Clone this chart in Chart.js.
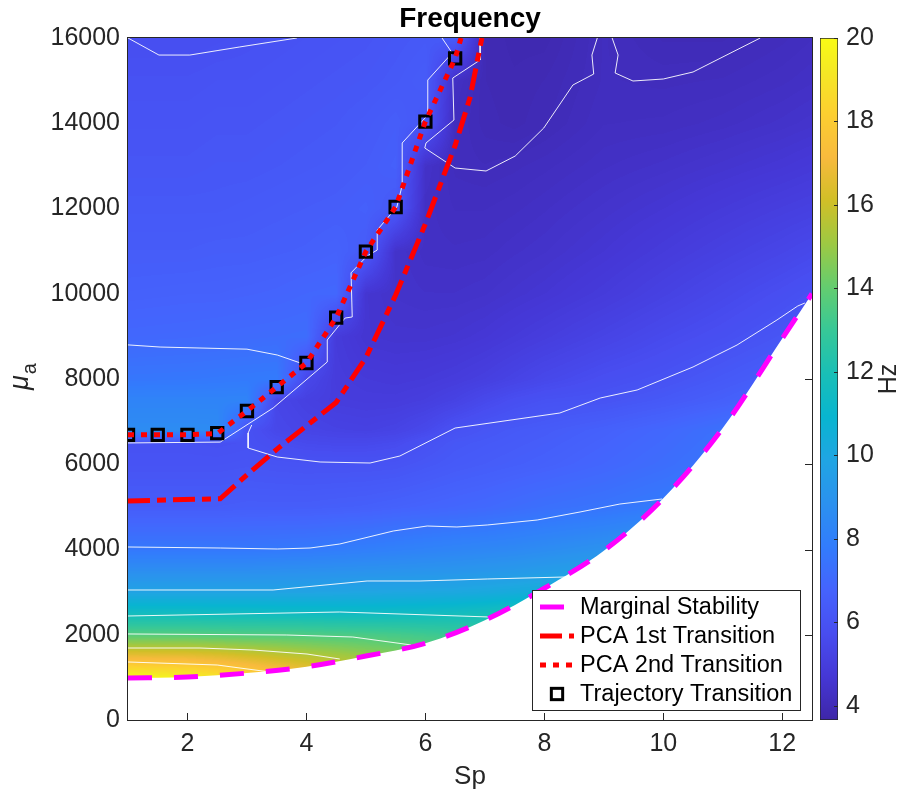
<!DOCTYPE html>
<html>
<head>
<meta charset="utf-8">
<title>Frequency</title>
<script src="https://cdn.jsdelivr.net/npm/chart.js@4.4.1/dist/chart.umd.min.js"></script>
<style>
  html, body { margin: 0; padding: 0; background: #fff; }
  #wrap { position: relative; width: 904px; height: 797px; }
  #main { position: absolute; left: 0; top: 0; }
  #cbar { position: absolute; left: 819px; top: 0; }
</style>
</head>
<body>
<div id="wrap">
  <canvas id="main" width="904" height="797"></canvas>
  <canvas id="cbar" width="85" height="797"></canvas>
</div>
<script>
// axis ticks
const xTicks = [2, 4, 6, 8, 10, 12];
const yTicks = [0, 2000, 4000, 6000, 8000, 10000, 12000, 14000, 16000];
const cbTicks = [4, 6, 8, 10, 12, 14, 16, 18, 20];
const cbMin = 3.66, cbMax = 20;

// marginal stability boundary
const msSp = [1, 2, 3, 4, 5, 6, 7, 8, 9, 10, 11, 12, 12.5];
const msMu = [985, 1010, 1100, 1250, 1500, 1800, 2340, 3090, 3970, 5200, 6850, 8950, 10000];

// PCA transitions
const pca1Sp = [1, 2.55, 3, 3.5, 4, 4.5, 5, 5.5, 6, 6.5, 6.75, 6.95];
const pca1Mu = [5140, 5190, 5750, 6350, 6900, 7450, 8500, 9970, 11640, 13480, 14600, 16000];
const pca2Sp = [1, 1.5, 2, 2.5, 3, 3.5, 4, 4.5, 5, 5.5, 6, 6.5, 6.6];
const pca2Mu = [6690, 6690, 6690, 6720, 7250, 7810, 8375, 9440, 10990, 12035, 14040, 15520, 16000];

// trajectory transition markers
const trajSp = [1, 1.5, 2, 2.5, 3, 3.5, 4, 4.5, 5, 5.5, 6, 6.5];
const trajMu = [6690, 6690, 6690, 6730, 7250, 7810, 8375, 9440, 10990, 12035, 14040, 15520];

// iso-frequency contour lines, [Sp, mu_a] vertices
const contourLines = [
  [[1, 16000], [1.52, 15600], [2.04, 15600], [2.88, 15790], [3.84, 16000]],
  [[1, 6500], [2.55, 6520], [3.44, 7320], [4.35, 8400], [4.35, 8915], [4.65, 9430], [4.77, 9455], [4.75, 10490],
   [5.02, 10885], [5.19, 11025], [5.19, 11495], [5.52, 12035], [5.62, 12600], [5.61, 13537], [6.04, 14193],
   [6.04, 15014], [6.45, 15648], [6.28, 16000]],
  [[1, 8800], [1.54, 8750], [3.0, 8700], [3.51, 8563], [3.9, 8375]],
  [[3.08, 6920], [3.02, 6733], [3.02, 6381], [3.51, 6170], [4.23, 6053], [5.07, 6029], [5.57, 6193], [6.5, 6850],
   [8.26, 7202], [8.94, 7554], [9.56, 7742], [10.5, 8282], [11.24, 8798], [11.91, 9384], [12.26, 9712], [12.38, 9783]],
  [[6.92, 16000], [6.92, 15484], [6.46, 15061], [6.48, 14076], [6.01, 13537], [5.99, 13419], [6.5, 12950],
   [7.02, 12880], [7.51, 13231], [7.99, 13888], [8.48, 14897], [8.83, 15155], [8.8, 15601], [8.89, 16000]],
  [[9.14, 16000], [9.24, 15601], [9.19, 15179], [9.49, 14991], [10.0, 15038], [10.5, 15202], [11.63, 16000]],
  [[1, 4059], [2.55, 4035], [3.51, 4012], [4.06, 4035], [4.56, 4129], [5.46, 4434], [6.03, 4551], [6.53, 4528],
   [7.04, 4575], [7.88, 4692], [8.6, 4880], [9.27, 5067], [9.98, 5185]],
  [[1, 3050], [3.44, 3050], [5.02, 3261], [5.91, 3261], [7.04, 3308], [8.35, 3355]],
  [[1, 2440], [4.56, 2534], [7.09, 2416]],
  [[1, 2018], [3.67, 1994], [4.78, 1947], [5.76, 1760]],
  [[1, 1689], [2.21, 1689], [3.1, 1642], [4.01, 1548], [4.56, 1431]],
  [[1, 1361], [2.5, 1290], [3.39, 1126]]
];

// frequency surface (Hz) on a Sp x mu_a grid, rows from low to high mu_a
const gridSp = [1, 2, 2.5, 3, 3.5, 4, 4.5, 5, 5.5, 6, 6.5, 7, 7.5, 8, 9, 10, 11, 12, 12.5];
const gridMu = [1000, 1500, 2000, 2500, 3000, 3500, 4000, 5000, 6000, 6500, 6800, 7500, 8000, 9000, 10000, 11000, 12000, 13000, 14000, 15000, 16000];
const freqGrid = [
  [19.8, 19.5, 19.1, 18.6, 18.0, 17.4, 16.8, 16.2, 15.7, 15.2, 14.8, 14.4, 14.2, 14.0, 14.0, 14.2, 14.5, 14.7, 14.8],
  [16.8, 16.7, 16.5, 16.2, 15.9, 15.6, 15.3, 15.0, 14.7, 14.4, 14.1, 13.8, 13.6, 13.5, 13.5, 13.7, 14.0, 14.2, 14.3],
  [13.7, 13.7, 13.65, 13.6, 13.6, 13.55, 13.5, 13.45, 13.35, 13.2, 13.05, 12.9, 12.9, 13.0, 13.2, 13.5, 13.8, 14.0, 14.1],
  [11.6, 11.6, 11.55, 11.55, 11.5, 11.5, 11.45, 11.45, 11.5, 11.55, 11.65, 11.8, 12.0, 12.2, 12.5, 12.8, 13.1, 13.4, 13.5],
  [9.8, 9.8, 9.8, 9.8, 9.8, 9.8, 9.85, 9.9, 9.95, 10.0, 10.05, 10.15, 10.3, 10.45, 10.7, 11.0, 11.3, 11.6, 11.7],
  [8.7, 8.7, 8.7, 8.7, 8.75, 8.8, 8.85, 8.9, 8.95, 9.0, 9.05, 9.15, 9.25, 9.4, 9.7, 10.1, 10.5, 10.9, 11.1],
  [7.65, 7.65, 7.65, 7.65, 7.7, 7.75, 7.85, 7.95, 8.05, 8.15, 8.25, 8.35, 8.45, 8.6, 8.9, 9.3, 9.8, 10.3, 10.6],
  [6.45, 6.45, 6.45, 6.5, 6.5, 6.5, 6.55, 6.6, 6.7, 6.8, 6.9, 7.0, 7.15, 7.3, 7.5, 7.8, 8.2, 8.6, 8.8],
  [6.05, 6.05, 6.05, 6.1, 6.05, 6.02, 6.02, 6.02, 6.05, 6.2, 6.35, 6.45, 6.55, 6.65, 6.9, 7.2, 7.6, 8.0, 8.2],
  [5.95, 5.95, 5.9, 5.95, 5.75, 5.6, 5.55, 5.55, 5.65, 5.95, 6.2, 6.3, 6.4, 6.5, 6.75, 7.05, 7.45, 7.85, 8.05],
  [8.6, 8.6, 8.55, 5.95, 5.5, 5.35, 5.25, 5.2, 5.3, 5.55, 5.95, 6.15, 6.3, 6.4, 6.65, 6.95, 7.35, 7.7, 7.9],
  [8.2, 8.2, 8.2, 8.2, 5.4, 5.15, 5.0, 4.95, 4.95, 5.05, 5.25, 5.55, 5.8, 5.95, 6.05, 6.3, 6.6, 7.0, 7.2],
  [7.6, 7.65, 7.7, 7.75, 7.8, 5.5, 4.95, 4.85, 4.8, 4.85, 4.95, 5.1, 5.3, 5.5, 5.8, 6.0, 6.3, 6.6, 6.8],
  [6.95, 7.0, 7.05, 7.1, 7.15, 7.2, 4.9, 4.6, 4.55, 4.55, 4.6, 4.7, 4.85, 5.0, 5.3, 5.6, 5.85, 6.15, 6.35],
  [6.65, 6.7, 6.7, 6.75, 6.8, 6.9, 6.95, 4.6, 4.45, 4.4, 4.4, 4.45, 4.55, 4.65, 4.9, 5.2, 5.5, 5.8, 5.97],
  [6.45, 6.45, 6.5, 6.5, 6.55, 6.6, 6.7, 6.4, 4.45, 4.3, 4.28, 4.3, 4.38, 4.45, 4.65, 4.9, 5.15, 5.4, 5.55],
  [6.3, 6.3, 6.3, 6.35, 6.4, 6.45, 6.5, 6.6, 6.3, 4.3, 4.2, 4.2, 4.25, 4.32, 4.48, 4.65, 4.85, 5.05, 5.15],
  [6.15, 6.15, 6.2, 6.2, 6.25, 6.3, 6.35, 6.45, 6.6, 4.4, 4.12, 4.08, 4.12, 4.18, 4.32, 4.42, 4.55, 4.7, 4.8],
  [6.05, 6.05, 6.1, 6.1, 6.15, 6.2, 6.25, 6.35, 6.5, 6.2, 4.15, 3.98, 3.92, 4.0, 4.2, 4.22, 4.3, 4.42, 4.5],
  [5.95, 5.95, 6.0, 6.0, 6.05, 6.1, 6.15, 6.2, 6.3, 6.45, 4.3, 3.95, 3.9, 3.95, 4.15, 4.12, 4.15, 4.25, 4.32],
  [5.8, 5.8, 5.85, 5.9, 5.95, 6.0, 6.05, 6.1, 6.2, 6.3, 6.4, 3.95, 3.85, 3.85, 4.15, 4.0, 4.0, 4.12, 4.2]
];

// parula colormap stops [t, r, g, b]
const parula = [
  [0 / 63, 0.2422, 0.1504, 0.6603], [4 / 63, 0.2706, 0.2147, 0.8364], [8 / 63, 0.2813, 0.3006, 0.9414],
  [12 / 63, 0.2699, 0.3892, 0.9906], [16 / 63, 0.1963, 0.4847, 0.9892], [20 / 63, 0.1687, 0.5703, 0.9359],
  [24 / 63, 0.1248, 0.6459, 0.8883], [28 / 63, 0.0297, 0.7082, 0.8163], [32 / 63, 0.0964, 0.7500, 0.7120],
  [36 / 63, 0.2161, 0.7843, 0.5923], [40 / 63, 0.3909, 0.8029, 0.4354], [44 / 63, 0.6174, 0.7876, 0.2612],
  [48 / 63, 0.8203, 0.7498, 0.1535], [52 / 63, 0.9728, 0.7298, 0.2394], [56 / 63, 0.9892, 0.8136, 0.1885],
  [60 / 63, 0.9597, 0.9135, 0.1423], [63 / 63, 0.9769, 0.9839, 0.0805]
];

const FONT = "'Liberation Sans', Arial, Helvetica, sans-serif";
const AXIS = '#262626';
Chart.defaults.font.family = FONT;
Chart.defaults.color = AXIS;

function toPoints(xs, ys) {
  return xs.map((x, i) => ({ x: x, y: ys[i] }));
}

function colourTable(n) {
  const out = new Uint8ClampedArray(n * 3);
  for (let k = 0; k < n; k++) {
    const t = k / (n - 1);
    let s = 0;
    while (s < parula.length - 2 && t > parula[s + 1][0]) s++;
    const a = parula[s], b = parula[s + 1];
    const f = Math.max(0, Math.min(1, (t - a[0]) / (b[0] - a[0])));
    for (let c = 0; c < 3; c++) out[k * 3 + c] = Math.round((a[c + 1] + (b[c + 1] - a[c + 1]) * f) * 255);
  }
  return out;
}

function locate(arr, v) {
  let i = 0;
  while (i < arr.length - 2 && v > arr[i + 1]) i++;
  const t = Math.max(0, Math.min(1, (v - arr[i]) / (arr[i + 1] - arr[i])));
  return [i, t];
}

// paint the interpolated frequency surface into an offscreen canvas
function buildSurface(chart) {
  const a = chart.chartArea, xs = chart.scales.x, ys = chart.scales.y;
  const w = Math.round(a.right - a.left), h = Math.round(a.bottom - a.top);
  const off = document.createElement('canvas');
  off.width = w; off.height = h;
  const octx = off.getContext('2d');
  const img = octx.createImageData(w, h);
  const lut = colourTable(256);
  const colI = [], colT = [];
  for (let px = 0; px < w; px++) {
    const r = locate(gridSp, xs.getValueForPixel(a.left + px + 0.5));
    colI.push(r[0]); colT.push(r[1]);
  }
  for (let py = 0; py < h; py++) {
    const [j, u] = locate(gridMu, ys.getValueForPixel(a.top + py + 0.5));
    const r0 = freqGrid[j], r1 = freqGrid[j + 1];
    for (let px = 0; px < w; px++) {
      const i = colI[px], t = colT[px];
      const lo = r0[i] + (r0[i + 1] - r0[i]) * t;
      const hi = r1[i] + (r1[i + 1] - r1[i]) * t;
      const v = lo + (hi - lo) * u;
      const k = Math.max(0, Math.min(255, Math.round((v - cbMin) / (cbMax - cbMin) * 255)));
      const o = (py * w + px) * 4;
      img.data[o] = lut[k * 3];
      img.data[o + 1] = lut[k * 3 + 1];
      img.data[o + 2] = lut[k * 3 + 2];
      img.data[o + 3] = 255;
    }
  }
  octx.putImageData(img, 0, 0);
  return off;
}

const surfacePlugin = {
  id: 'surface',
  beforeDatasetsDraw(chart) {
    const { ctx, chartArea: a, scales: { x, y } } = chart;
    ctx.save();
    // inward tick marks, the surface hides them where it is drawn
    ctx.strokeStyle = AXIS;
    ctx.lineWidth = 1;
    ctx.beginPath();
    x.ticks.forEach(t => {
      const px = Math.round(x.getPixelForValue(t.value)) + 0.5;
      ctx.moveTo(px, a.bottom); ctx.lineTo(px, a.bottom - 7);
      ctx.moveTo(px, a.top); ctx.lineTo(px, a.top + 7);
    });
    y.ticks.forEach(t => {
      const py = Math.round(y.getPixelForValue(t.value)) + 0.5;
      ctx.moveTo(a.left, py); ctx.lineTo(a.left + 7, py);
      ctx.moveTo(a.right, py); ctx.lineTo(a.right - 7, py);
    });
    ctx.stroke();

    if (!chart.$surface) chart.$surface = buildSurface(chart);
    // keep only the stable side of the marginal stability curve
    const line = chart.getDatasetMeta(0).dataset;
    ctx.save();
    ctx.beginPath();
    if (line && typeof line.path === 'function') {
      line.path(ctx);
    } else {
      chart.getDatasetMeta(0).data.forEach((p, i) => i ? ctx.lineTo(p.x, p.y) : ctx.moveTo(p.x, p.y));
    }
    ctx.lineTo(a.right, a.top);
    ctx.lineTo(a.left, a.top);
    ctx.closePath();
    ctx.clip();
    ctx.drawImage(chart.$surface, a.left, a.top);
    ctx.restore();

    ctx.strokeStyle = AXIS;
    ctx.strokeRect(a.left - 0.5, a.top - 0.5, a.right - a.left + 1, a.bottom - a.top + 1);
    ctx.restore();
  },
  afterDraw(chart) {
    const { ctx, chartArea: a } = chart;
    // y label with subscript
    ctx.save();
    ctx.translate(28, (a.top + a.bottom) / 2 - 2);
    ctx.rotate(-Math.PI / 2);
    ctx.fillStyle = AXIS;
    ctx.textBaseline = 'alphabetic';
    ctx.font = 'italic 27px ' + FONT;
    const w1 = ctx.measureText('\u03bc').width;
    ctx.font = '20px ' + FONT;
    const w2 = ctx.measureText('a').width;
    const x0 = -(w1 + w2) / 2;
    ctx.font = 'italic 27px ' + FONT;
    ctx.fillText('\u03bc', x0, 0);
    ctx.font = '20px ' + FONT;
    ctx.fillText('a', x0 + w1 + 1, 8);
    ctx.restore();

    // legend box in the lower right corner
    const box = { left: a.right - 280, right: a.right - 12, top: a.bottom - 130, bottom: a.bottom - 10 };
    ctx.save();
    ctx.fillStyle = '#fff';
    ctx.fillRect(box.left, box.top, box.right - box.left, box.bottom - box.top);
    ctx.strokeStyle = AXIS;
    ctx.lineWidth = 1;
    ctx.strokeRect(box.left + 0.5, box.top + 0.5, box.right - box.left, box.bottom - box.top);
    ctx.font = '23.5px ' + FONT;
    ctx.textBaseline = 'middle';
    for (let i = 0; i < 4; i++) {
      const ds = chart.data.datasets[i];
      const yy = box.top + 17 + i * 29;
      const x1 = box.left + 8, x2 = box.left + 42;
      if (ds.showLine) {
        ctx.save();
        ctx.beginPath();
        ctx.rect(x1, yy - 10, x2 - x1, 20);
        ctx.clip();
        ctx.strokeStyle = ds.borderColor;
        ctx.lineWidth = ds.borderWidth;
        ctx.lineCap = 'butt';
        ctx.setLineDash(ds.borderDash || []);
        ctx.beginPath();
        ctx.moveTo(x1, yy); ctx.lineTo(x2 + 10, yy);
        ctx.stroke();
        ctx.restore();
      } else {
        const s = ds.pointRadius * Math.SQRT2;
        ctx.strokeStyle = ds.pointBorderColor;
        ctx.lineWidth = ds.pointBorderWidth;
        ctx.setLineDash([]);
        ctx.strokeRect((x1 + x2) / 2 - s / 2, yy - s / 2, s, s);
      }
      ctx.fillStyle = '#000';
      ctx.fillText(ds.label, box.left + 48, yy + 1);
    }
    ctx.restore();
  }
};

const mainSets = [
  {
    label: 'Marginal Stability', data: toPoints(msSp, msMu), showLine: true,
    borderColor: '#ff00ff', borderWidth: 5, borderDash: [24, 22], borderCapStyle: 'butt',
    cubicInterpolationMode: 'monotone', pointRadius: 0
  },
  {
    label: 'PCA 1st Transition', data: toPoints(pca1Sp, pca1Mu), showLine: true,
    borderColor: '#ff0000', borderWidth: 5, borderDash: [22, 7, 9, 7], borderCapStyle: 'butt', pointRadius: 0
  },
  {
    label: 'PCA 2nd Transition', data: toPoints(pca2Sp, pca2Mu), showLine: true,
    borderColor: '#ff0000', borderWidth: 5, borderDash: [6, 7], borderCapStyle: 'butt', pointRadius: 0
  },
  {
    label: 'Trajectory Transition', data: toPoints(trajSp, trajMu), showLine: false,
    pointStyle: 'rect', pointRadius: 8, pointBorderWidth: 3,
    pointBorderColor: '#000', pointBackgroundColor: 'rgba(0,0,0,0)'
  }
];
const contourSets = contourLines.map(c => ({
  label: '', data: c.map(([x, y]) => ({ x: x, y: y })), showLine: true,
  borderColor: 'rgba(255,255,255,0.9)', borderWidth: 1, pointRadius: 0
}));

new Chart(document.getElementById('main'), {
  type: 'scatter',
  data: { datasets: mainSets.concat(contourSets) },
  options: {
    responsive: false,
    animation: false,
    events: [],
    layout: { padding: { top: 0, right: 92, bottom: 0, left: 0 } },
    plugins: {
      legend: { display: false },
      tooltip: { enabled: false },
      title: {
        display: true, text: 'Frequency', fullSize: false, color: '#000',
        font: { size: 28, weight: 'bold' }, padding: { top: 2, bottom: 2.4 }
      }
    },
    scales: {
      x: {
        type: 'linear', min: 1, max: 12.5,
        afterFit: s => { s.height = 77; },
        afterBuildTicks: s => { s.ticks = xTicks.map(v => ({ value: v })); },
        grid: { display: false, drawTicks: false }, border: { display: false },
        ticks: { font: { size: 25 }, padding: 9, maxRotation: 0, callback: v => v },
        title: { display: true, text: 'Sp', font: { size: 26 }, padding: { top: 0, bottom: 5 } }
      },
      y: {
        type: 'linear', min: 0, max: 16000,
        afterFit: s => { s.width = 128; },
        afterBuildTicks: s => { s.ticks = yTicks.map(v => ({ value: v })); },
        grid: { display: false, drawTicks: false }, border: { display: false },
        ticks: { font: { size: 25 }, padding: 8, callback: v => v }
      }
    }
  },
  plugins: [surfacePlugin]
});

// colour bar
function barGradient(chart) {
  const a = chart.chartArea;
  if (!a) return null;
  const ys = chart.scales.y;
  const g = chart.ctx.createLinearGradient(0, ys.getPixelForValue(cbMin), 0, ys.getPixelForValue(cbMax));
  parula.forEach(([t, r, gg, b]) => {
    g.addColorStop(t, 'rgb(' + Math.round(r * 255) + ',' + Math.round(gg * 255) + ',' + Math.round(b * 255) + ')');
  });
  return g;
}

const cbLabel = {
  id: 'cbLabel',
  afterDraw(chart) {
    const { ctx, chartArea: a, scales: { y } } = chart;
    ctx.save();
    // short inward ticks on the bar's right edge
    ctx.strokeStyle = AXIS;
    ctx.lineWidth = 1;
    ctx.beginPath();
    y.ticks.forEach(t => {
      const py = Math.round(y.getPixelForValue(t.value)) + 0.5;
      ctx.moveTo(a.right, py); ctx.lineTo(a.right - 4, py);
    });
    ctx.stroke();
    ctx.translate(70, (a.top + a.bottom) / 2);
    ctx.rotate(-Math.PI / 2);
    ctx.font = '25px ' + FONT;
    ctx.fillStyle = AXIS;
    ctx.textAlign = 'center';
    ctx.textBaseline = 'middle';
    ctx.fillText('Hz', 0, 0);
    ctx.restore();
  }
};

new Chart(document.getElementById('cbar'), {
  type: 'bar',
  data: {
    labels: ['Hz'],
    datasets: [{
      data: [[cbMin, cbMax]],
      backgroundColor: c => barGradient(c.chart),
      borderColor: AXIS, borderWidth: 1, borderSkipped: false,
      barPercentage: 1, categoryPercentage: 1
    }]
  },
  options: {
    responsive: false,
    animation: false,
    events: [],
    layout: { padding: { top: 38, bottom: 77, left: 1, right: 0 } },
    plugins: { legend: { display: false }, tooltip: { enabled: false } },
    scales: {
      x: { display: false },
      y: {
        position: 'right', min: cbMin, max: cbMax,
        afterFit: s => { s.width = 66; },
        afterBuildTicks: s => { s.ticks = cbTicks.map(v => ({ value: v })); },
        grid: { display: false, drawTicks: false }, border: { display: false },
        ticks: { font: { size: 25 }, padding: 8 }
      }
    }
  },
  plugins: [cbLabel]
});
</script>
</body>
</html>
